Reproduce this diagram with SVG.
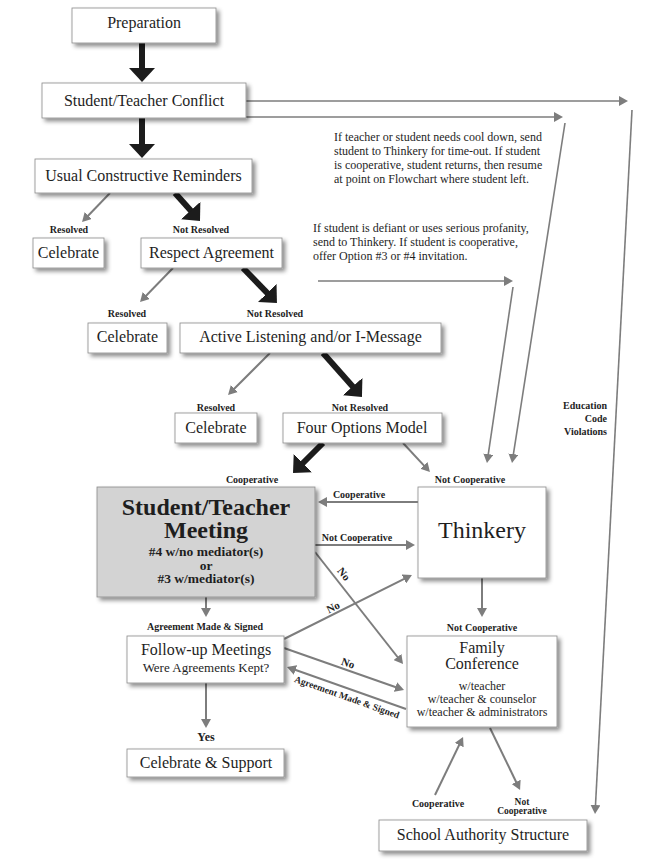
<svg xmlns="http://www.w3.org/2000/svg" width="667" height="863" viewBox="0 0 667 863">
<defs>
<filter id="sh" x="-20%" y="-20%" width="140%" height="150%">
<feDropShadow dx="3" dy="3" stdDeviation="2" flood-color="#000" flood-opacity="0.45"/>
</filter>
<marker id="hb" markerUnits="userSpaceOnUse" markerWidth="14" markerHeight="26" refX="2" refY="13" orient="auto">
<path d="M0,0 L14,13 L0,26 z" fill="#1c1c1c"/>
</marker>
<marker id="hg" markerUnits="userSpaceOnUse" markerWidth="9" markerHeight="10" refX="2" refY="5" orient="auto">
<path d="M0,0 L9,5 L0,10 z" fill="#7d7d7d"/>
</marker>
<style>
.box{fill:#fff;stroke:#8a8a8a;stroke-width:0.8;filter:url(#sh)}
.gbox{fill:#d3d3d3;stroke:#8a8a8a;stroke-width:0.8;filter:url(#sh)}
text{font-family:"Liberation Serif","Times New Roman",serif;fill:#1e1e1e}
.t16{font-size:16px;text-anchor:middle}
.t12{font-size:12px;text-anchor:middle}
.lb{font-size:10px;font-weight:bold;text-anchor:middle}
.note{font-size:12px}
.m14{font-size:13.5px;font-weight:bold;text-anchor:middle}
.thick{stroke:#1c1c1c;stroke-width:6;fill:none;marker-end:url(#hb)}
.grey{stroke:#7d7d7d;stroke-width:2;fill:none;marker-end:url(#hg)}
.thin{stroke:#7d7d7d;stroke-width:1.6;fill:none;marker-end:url(#hg)}
</style>
</defs>
<rect width="667" height="863" fill="#fff"/>

<g id="connectors">
<line class="thick" x1="142" y1="43" x2="142" y2="70"/>
<line class="thick" x1="142" y1="118" x2="142" y2="146"/>
<line class="thick" x1="175" y1="193" x2="192" y2="212"/>
<line class="thick" x1="243" y1="268" x2="268.6" y2="294.4"/>
<line class="thick" x1="323" y1="353" x2="354" y2="388"/>
<line class="thick" x1="323" y1="443" x2="301.5" y2="464.5"/>

<line class="grey" x1="110" y1="193" x2="86.9" y2="217"/>
<line class="grey" x1="173" y1="268" x2="144.9" y2="297"/>
<line class="grey" x1="270" y1="353" x2="233" y2="390"/>
<line class="grey" x1="403" y1="443" x2="425.2" y2="466.9"/>
<line class="grey" x1="418" y1="502" x2="325" y2="502"/>
<line class="grey" x1="315" y1="545" x2="408" y2="545"/>
<line class="grey" x1="315" y1="552" x2="398.7" y2="658.5"/>
<line class="grey" x1="284" y1="639" x2="405.7" y2="578.1"/>
<line class="grey" x1="482" y1="578" x2="482" y2="610"/>
<line class="grey" x1="206" y1="597" x2="206" y2="610"/>
<line class="grey" x1="206" y1="683" x2="206" y2="721"/>
<line class="grey" x1="284" y1="648" x2="397.4" y2="687.7"/>
<line class="grey" x1="406" y1="709" x2="293.6" y2="669.3"/>
<line class="grey" x1="435" y1="795" x2="460" y2="743.3"/>
<line class="grey" x1="490" y1="728" x2="517" y2="783.7"/>

<line class="thin" x1="246" y1="101" x2="621" y2="101"/>
<line class="thin" x1="246" y1="117" x2="556" y2="117"/>
<line class="thin" x1="318" y1="281" x2="506" y2="281"/>
<line class="thin" x1="632" y1="110" x2="595.4" y2="807"/>
<line class="thin" x1="565" y1="123" x2="513.1" y2="456.1"/>
<line class="thin" x1="513" y1="287" x2="488" y2="456.1"/>

<text class="lb" x="69" y="232.5">Resolved</text>
<text class="lb" x="201" y="232.5">Not Resolved</text>
<text class="lb" x="127" y="316.5">Resolved</text>
<text class="lb" x="275" y="316.5">Not Resolved</text>
<text class="lb" x="216" y="410.5">Resolved</text>
<text class="lb" x="360" y="410.5">Not Resolved</text>
<text class="lb" x="252" y="482.5">Cooperative</text>
<text class="lb" x="470" y="482.5">Not Cooperative</text>
<text class="lb" x="359" y="497.5">Cooperative</text>
<text class="lb" x="357" y="540.5">Not Cooperative</text>
<text class="lb" x="482" y="630.5">Not Cooperative</text>
<text class="lb" x="205" y="629.5">Agreement Made &amp; Signed</text>
<text class="lb" x="206" y="741" style="font-size:12px">Yes</text>
<text class="lb" x="438" y="806.5">Cooperative</text>
<text class="lb" x="522" y="804.5" style="font-size:9.5px">Not</text>
<text class="lb" x="522" y="814" style="font-size:9.5px">Cooperative</text>
<text class="lb" style="text-anchor:end" x="607" y="408.5">Education</text>
<text class="lb" style="text-anchor:end" x="607" y="421.5">Code</text>
<text class="lb" style="text-anchor:end" x="607" y="434.5">Violations</text>
<text class="lb" style="font-size:11px" transform="translate(344,574) rotate(52)" dy="0.35em">No</text>
<text class="lb" style="font-size:11px" transform="translate(333,607) rotate(-26.5)" dy="0.35em">No</text>
<text class="lb" style="font-size:11px" transform="translate(348,663) rotate(19.3)" dy="0.35em">No</text>
<text class="lb" style="font-size:9.5px" transform="translate(347,697) rotate(19.5)" dy="0.35em">Agreement Made &amp; Signed</text>

<text class="note" x="334" y="141">If teacher or student needs cool down, send</text>
<text class="note" x="334" y="155">student to Thinkery for time-out. If student</text>
<text class="note" x="334" y="169">is cooperative, student returns, then resume</text>
<text class="note" x="334" y="183">at point on Flowchart where student left.</text>
<text class="note" x="313" y="232">If student is defiant or uses serious profanity,</text>
<text class="note" x="313" y="246">send to Thinkery.  If student is cooperative,</text>
<text class="note" x="313" y="260">offer Option #3 or #4 invitation.</text>
</g>

<g id="preparation"><rect class="box" x="72" y="8" width="144" height="35"/><text class="t16" x="144" y="28">Preparation</text></g>
<g id="conflict"><rect class="box" x="42" y="83" width="204" height="35"/><text class="t16" x="144" y="106">Student/Teacher Conflict</text></g>
<g id="reminders"><rect class="box" x="35" y="159" width="217" height="34"/><text class="t16" x="143.5" y="181">Usual Constructive Reminders</text></g>
<g id="celebrate1"><rect class="box" x="33" y="238" width="71" height="30"/><text class="t16" x="68.5" y="258">Celebrate</text></g>
<g id="respect"><rect class="box" x="141" y="238" width="141" height="30"/><text class="t16" x="211.5" y="258">Respect Agreement</text></g>
<g id="celebrate2"><rect class="box" x="88" y="323" width="79" height="30"/><text class="t16" x="127.5" y="342">Celebrate</text></g>
<g id="active"><rect class="box" x="180" y="323" width="261" height="30"/><text class="t16" x="310.5" y="342">Active Listening and/or I-Message</text></g>
<g id="celebrate3"><rect class="box" x="175" y="413" width="82" height="30"/><text class="t16" x="216" y="433">Celebrate</text></g>
<g id="fouroptions"><rect class="box" x="283" y="413" width="159" height="30"/><text class="t16" x="362" y="433">Four Options Model</text></g>
<g id="meeting"><rect class="gbox" x="97" y="487" width="218" height="110"/>
<text x="206" y="515" style="font-size:24px;font-weight:bold;text-anchor:middle">Student/Teacher</text>
<text x="206" y="538" style="font-size:24px;font-weight:bold;text-anchor:middle">Meeting</text>
<text class="m14" x="206" y="556">#4 w/no mediator(s)</text>
<text class="m14" x="206" y="569.5">or</text>
<text class="m14" x="206" y="583">#3 w/mediator(s)</text></g>
<g id="thinkery"><rect class="box" x="418" y="487" width="128" height="91"/><text x="482" y="538" style="font-size:24px;text-anchor:middle">Thinkery</text></g>
<g id="followup"><rect class="box" x="127" y="636" width="157" height="47"/><text class="t16" x="206" y="655">Follow-up Meetings</text><text x="206" y="672" style="font-size:13px;text-anchor:middle">Were Agreements Kept?</text></g>
<g id="support"><rect class="box" x="127" y="749" width="157" height="28"/><text class="t16" x="206" y="768">Celebrate &amp; Support</text></g>
<g id="family"><rect class="box" x="407" y="636" width="150" height="91"/>
<text class="t16" x="482" y="653">Family</text>
<text class="t16" x="482" y="669">Conference</text>
<text class="t12" x="482" y="690">w/teacher</text>
<text class="t12" x="482" y="703">w/teacher &amp; counselor</text>
<text class="t12" x="482" y="716">w/teacher &amp; administrators</text></g>
<g id="authority"><rect class="box" x="379" y="820" width="208" height="31"/><text class="t16" x="483" y="840">School Authority Structure</text></g>
</svg>
